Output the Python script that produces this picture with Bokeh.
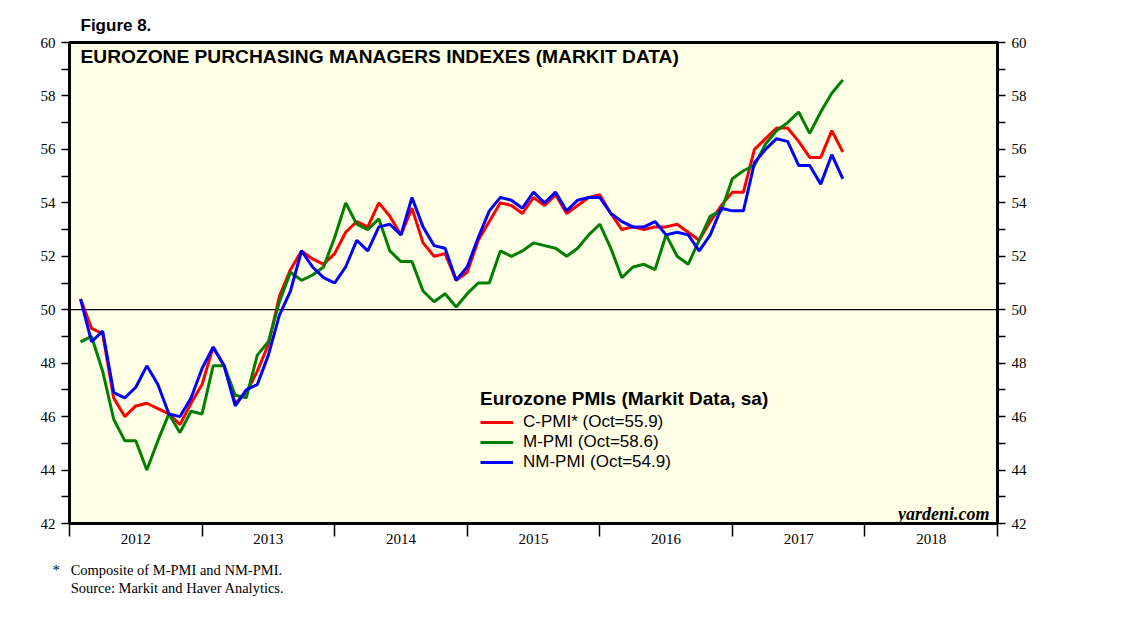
import pandas as pd
from bokeh.plotting import figure
from bokeh.models import (Range1d, LinearAxis, FixedTicker, Span, Label,
                          Legend, LegendItem, Title)
from bokeh.embed import file_html
from bokeh.resources import INLINE

# ---------------- data (monthly, Jan 2012 - Oct 2017) ----------------
months = pd.period_range("2012-01", "2017-10", freq="M")

c_pmi = [
    50.4, 49.3, 49.1, 46.7, 46.0, 46.4, 46.5, 46.3, 46.1, 45.7, 46.5, 47.2,
    48.6, 47.9, 46.5, 46.9, 47.7, 48.7, 50.5, 51.5, 52.2, 51.9, 51.7, 52.1,
    52.9, 53.3, 53.1, 54.0, 53.5, 52.8, 53.8, 52.5, 52.0, 52.1, 51.1, 51.4,
    52.6, 53.3, 54.0, 53.9, 53.6, 54.2, 53.9, 54.3, 53.6, 53.9, 54.2, 54.3,
    53.6, 53.0, 53.1, 53.0, 53.1, 53.1, 53.2, 52.9, 52.6, 53.3, 53.9, 54.4,
    54.4, 56.0, 56.4, 56.8, 56.8, 56.3, 55.7, 55.7, 56.7, 55.9,
]
m_pmi = [
    48.8, 49.0, 47.7, 45.9, 45.1, 45.1, 44.0, 45.1, 46.1, 45.4, 46.2, 46.1,
    47.9, 47.9, 46.8, 46.7, 48.3, 48.8, 50.3, 51.4, 51.1, 51.3, 51.6, 52.7,
    54.0, 53.2, 53.0, 53.4, 52.2, 51.8, 51.8, 50.7, 50.3, 50.6, 50.1, 50.6,
    51.0, 51.0, 52.2, 52.0, 52.2, 52.5, 52.4, 52.3, 52.0, 52.3, 52.8, 53.2,
    52.3, 51.2, 51.6, 51.7, 51.5, 52.8, 52.0, 51.7, 52.6, 53.5, 53.7, 54.9,
    55.2, 55.4, 56.2, 56.7, 57.0, 57.4, 56.6, 57.4, 58.1, 58.6,
]
nm_pmi = [
    50.4, 48.8, 49.2, 46.9, 46.7, 47.1, 47.9, 47.2, 46.1, 46.0, 46.7, 47.8,
    48.6, 47.9, 46.4, 47.0, 47.2, 48.3, 49.8, 50.7, 52.2, 51.6, 51.2, 51.0,
    51.6, 52.6, 52.2, 53.1, 53.2, 52.8, 54.2, 53.1, 52.4, 52.3, 51.1, 51.6,
    52.7, 53.7, 54.2, 54.1, 53.8, 54.4, 54.0, 54.4, 53.7, 54.1, 54.2, 54.2,
    53.6, 53.3, 53.1, 53.1, 53.3, 52.8, 52.9, 52.8, 52.2, 52.8, 53.8, 53.7,
    53.7, 55.5, 56.0, 56.4, 56.3, 55.4, 55.4, 54.7, 55.8, 54.9,
]
series_labels = ["C-PMI* (Oct=55.9)", "M-PMI (Oct=58.6)", "NM-PMI (Oct=54.9)"]
years = [2012, 2013, 2014, 2015, 2016, 2017, 2018]
year_labels = ["2012", "2013", "2014", "2015", "2016", "2017", "2018"]
y_major = [42, 44, 46, 48, 50, 52, 54, 56, 58, 60]
y_minor = [43, 45, 47, 49, 51, 53, 55, 57, 59]
footnote_lines = ["*\u00a0\u00a0\u00a0Composite of M-PMI and NM-PMI.",
                  "\u00a0\u00a0\u00a0\u00a0\u00a0Source: Markit and Haver Analytics."]

# monthly values are plotted at the end of each month
x = [pr.year + pr.month / 12.0 for pr in months]

BG = "#FFFFE6"
SANS = "Liberation Sans"
SERIF = "Liberation Serif"

p = figure(width=1130, height=613, output_backend="svg", toolbar_location=None,
           x_range=Range1d(years[0], years[-1] + 1), y_range=Range1d(42, 60),
           x_axis_location=None, y_axis_location=None,
           min_border_left=69, min_border_right=133, min_border_top=42,
           min_border_bottom=90,
           background_fill_color=BG, border_fill_color="white",
           outline_line_color="black", outline_line_width=3)
p.xgrid.visible = False
p.ygrid.visible = False

# x axis: long ticks at year boundaries, labels centred within each year
xaxis = LinearAxis(
    ticker=FixedTicker(ticks=[yy + 0.5 for yy in years],
                       minor_ticks=years + [years[-1] + 1]),
    major_label_overrides={yy + 0.5: lab for yy, lab in zip(years, year_labels)},
    major_tick_in=0, major_tick_out=0, minor_tick_in=0, minor_tick_out=13,
    minor_tick_line_width=1.5, axis_line_color=None,
    major_label_text_font=SERIF, major_label_text_font_size="15px",
    major_label_standoff=-3, major_label_text_color="black")
p.add_layout(xaxis, "below")

for side in ("left", "right"):
    ax = LinearAxis(
        ticker=FixedTicker(ticks=y_major, minor_ticks=y_minor),
        major_tick_in=0, major_tick_out=8, minor_tick_in=0, minor_tick_out=8,
        major_tick_line_width=1.5, minor_tick_line_width=1.5,
        axis_line_color=None,
        major_label_text_font=SERIF, major_label_text_font_size="15px",
        major_label_standoff=6, major_label_text_color="black")
    p.add_layout(ax, side)

p.add_layout(Span(location=50, dimension="width", line_color="black",
                  line_width=1.3, level="underlay"))

r_c = p.line(x, c_pmi, line_color="#FF0000", line_width=3)
r_m = p.line(x, m_pmi, line_color="#007F00", line_width=3)
r_n = p.line(x, nm_pmi, line_color="#0000FF", line_width=3)

legend = Legend(
    items=[LegendItem(label=series_labels[0], renderers=[r_c]),
           LegendItem(label=series_labels[1], renderers=[r_m]),
           LegendItem(label=series_labels[2], renderers=[r_n])],
    title="Eurozone PMIs (Markit Data, sa)",
    location=(411, 51), background_fill_alpha=0, border_line_color=None,
    title_text_font=SANS, title_text_font_style="bold",
    title_text_font_size="19px", title_standoff=2, title_text_color="black",
    label_text_font=SANS, label_text_font_size="17px", label_text_color="black",
    glyph_width=33, glyph_height=20, label_height=20, label_standoff=10,
    padding=0, margin=0, spacing=0)
p.add_layout(legend)

p.add_layout(Label(x=11, y=467, x_units="screen", y_units="screen",
                   text="EUROZONE PURCHASING MANAGERS INDEXES (MARKIT DATA)",
                   text_font=SANS, text_font_style="bold", text_color="black",
                   text_font_size="19.2px", text_baseline="middle"))
p.add_layout(Label(x=920, y=10, x_units="screen", y_units="screen",
                   text="yardeni.com", text_font=SERIF, text_color="black",
                   text_font_style="bold italic", text_font_size="18px",
                   text_align="right", text_baseline="middle"))

# texts outside the plot frame
p.add_layout(Title(text="Figure 8.", align="left", offset=11, standoff=16,
                   text_font=SANS, text_font_style="bold",
                   text_font_size="17px", text_color="black"), "above")
p.add_layout(Title(text="\n".join(footnote_lines),
                   align="left", offset=-17, standoff=27,
                   text_font=SERIF, text_font_style="normal",
                   text_font_size="14.5px", text_color="black",
                   text_line_height=1.12), "below")

open("out.html", "w").write(file_html(p, INLINE))
